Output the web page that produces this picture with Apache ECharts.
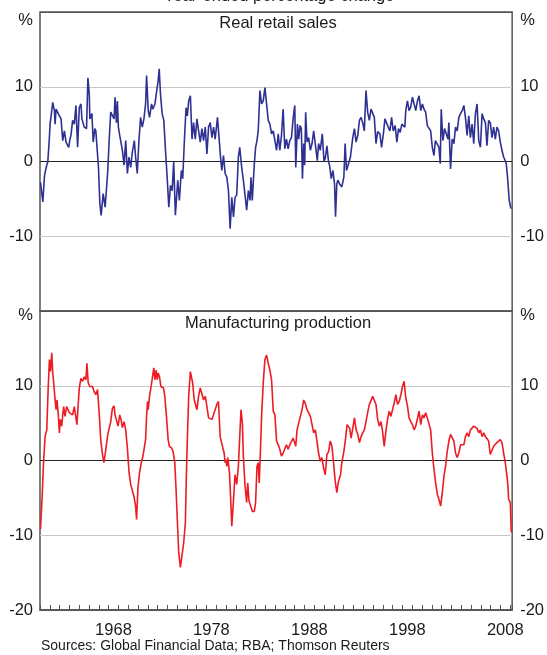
<!DOCTYPE html>
<html>
<head>
<meta charset="UTF-8">
<title>Retail sales and manufacturing production</title>
<script src="https://cdn.jsdelivr.net/npm/echarts@6/dist/echarts.min.js"></script>
<style>
  html, body { margin: 0; padding: 0; background: #fff; }
  #chart { width: 547px; height: 655px; }
</style>
</head>
<body>
<div id="chart"></div>
<script>
// year-ended % change, [decimal year, value]
var retailSales = [
  [1961.05,-2.8],[1961.29,-5.4],[1961.46,-1.9],[1961.63,-0.8],[1961.80,0.0],[1961.96,3.2],
  [1962.03,5.0],[1962.20,5.2],[1962.30,7.9],[1962.47,6.8],[1962.54,5.0],[1962.64,7.0],
  [1962.98,6.1],[1963.15,5.7],[1963.32,2.8],[1963.49,4.1],[1963.66,2.6],[1963.83,2.8],
  [1963.93,1.9],[1964.06,3.0],[1964.16,3.5],[1964.33,5.5],[1964.50,5.0],[1964.67,7.5],
  [1964.84,1.9],[1965.01,7.2],[1965.18,7.7],[1965.28,5.7],[1965.52,4.6],[1965.75,4.4],
  [1965.89,11.2],[1966.03,9.0],[1966.09,5.7],[1966.30,6.4],[1966.43,2.6],[1966.60,4.4],
  [1966.70,4.1],[1966.87,1.0],[1966.97,-0.8],[1967.11,-5.6],[1967.24,-7.2],[1967.45,-4.3],
  [1967.65,-6.1],[1967.79,-3.6],[1967.92,-1.2],[1968.06,2.8],[1968.22,6.6],[1968.39,6.8],
  [1968.56,5.7],[1968.66,8.6],[1968.80,5.2],[1968.90,8.1],[1969.00,4.6],[1969.14,3.5],
  [1969.24,3.5],[1969.41,1.5],[1969.58,-0.5],[1969.75,2.8],[1969.92,-1.6],[1970.09,0.6],
  [1970.26,-0.8],[1970.42,1.2],[1970.63,2.8],[1970.76,0.6],[1970.93,-1.6],[1971.10,2.8],
  [1971.27,5.9],[1971.44,4.6],[1971.61,5.7],[1971.78,7.7],[1971.88,11.5],[1972.05,6.8],
  [1972.18,5.9],[1972.39,7.7],[1972.52,7.0],[1972.73,7.7],[1972.89,7.5],[1973.06,10.8],
  [1973.17,12.4],[1973.30,9.0],[1973.47,6.4],[1973.64,5.5],[1973.81,1.5],[1973.98,-2.1],
  [1974.15,-6.1],[1974.32,-3.2],[1974.49,-3.9],[1974.65,0.0],[1974.82,-7.2],[1975.06,-2.5],
  [1975.23,-5.2],[1975.43,-1.2],[1975.57,-2.3],[1975.74,2.8],[1975.91,7.2],[1976.04,6.1],
  [1976.18,8.1],[1976.35,8.8],[1976.52,3.0],[1976.68,5.2],[1976.85,3.0],[1977.02,5.7],
  [1977.19,4.1],[1977.36,2.6],[1977.53,4.4],[1977.70,2.8],[1977.87,4.6],[1978.04,1.0],
  [1978.21,4.6],[1978.38,5.2],[1978.55,3.2],[1978.72,4.6],[1978.88,3.0],[1979.12,5.9],
  [1979.29,3.0],[1979.46,0.1],[1979.56,-1.2],[1979.73,0.8],[1979.90,-1.6],[1980.07,-2.1],
  [1980.24,-3.9],[1980.41,-9.0],[1980.58,-4.8],[1980.75,-7.4],[1980.91,-4.8],[1981.08,-4.5],
  [1981.25,0.6],[1981.39,1.9],[1981.59,-0.8],[1981.76,-2.5],[1981.93,-4.5],[1982.10,-6.5],
  [1982.27,-3.9],[1982.44,-5.2],[1982.54,-2.1],[1982.67,-5.2],[1982.88,-0.3],[1983.01,1.9],
  [1983.15,2.8],[1983.28,4.1],[1983.45,9.5],[1983.62,7.7],[1983.79,8.1],[1983.96,9.9],
  [1984.13,7.7],[1984.30,5.5],[1984.47,5.0],[1984.64,3.7],[1984.81,4.1],[1984.98,2.8],
  [1985.15,1.5],[1985.32,3.7],[1985.48,1.5],[1985.65,3.5],[1985.82,7.0],[1985.99,1.7],
  [1986.16,3.0],[1986.33,1.7],[1986.50,2.8],[1986.67,3.2],[1986.84,5.7],[1987.01,7.5],
  [1987.11,-0.8],[1987.28,5.0],[1987.41,3.0],[1987.55,4.8],[1987.68,4.4],[1987.79,-2.3],
  [1987.92,2.4],[1988.02,-0.5],[1988.12,6.6],[1988.26,2.6],[1988.43,3.2],[1988.60,1.5],
  [1988.77,2.4],[1988.94,4.1],[1989.11,3.9],[1989.31,0.1],[1989.44,2.4],[1989.61,1.5],
  [1989.82,3.7],[1989.99,0.1],[1990.12,0.4],[1990.29,2.1],[1990.46,-0.1],[1990.56,-0.5],
  [1990.73,-2.3],[1990.90,-1.2],[1991.07,-3.0],[1991.17,-7.4],[1991.30,-3.0],[1991.41,-2.5],
  [1991.58,-3.0],[1991.81,-3.4],[1992.02,-2.1],[1992.15,2.4],[1992.29,-1.2],[1992.49,-0.3],
  [1992.69,0.6],[1992.93,3.2],[1993.10,4.4],[1993.27,2.6],[1993.44,3.5],[1993.61,5.5],
  [1993.78,5.9],[1993.94,5.2],[1994.11,4.1],[1994.28,9.5],[1994.45,6.6],[1994.62,5.5],
  [1994.79,7.0],[1994.96,7.2],[1995.13,5.9],[1995.30,2.4],[1995.47,4.0],[1995.70,3.7],
  [1995.87,1.9],[1996.08,4.0],[1996.21,5.7],[1996.41,5.5],[1996.55,4.6],[1996.72,4.1],
  [1996.89,5.9],[1997.06,4.1],[1997.26,4.8],[1997.43,2.6],[1997.60,4.4],[1997.77,3.9],
  [1997.94,5.0],[1998.11,4.8],[1998.24,4.6],[1998.34,6.8],[1998.51,8.1],[1998.68,6.8],
  [1998.85,7.3],[1999.02,8.6],[1999.19,8.8],[1999.36,6.8],[1999.53,8.1],[1999.70,8.8],
  [1999.87,6.8],[2000.04,7.7],[2000.20,7.0],[2000.37,6.6],[2000.54,4.8],[2000.71,4.6],
  [2000.88,4.1],[2001.05,1.9],[2001.22,0.8],[2001.36,2.8],[2001.56,2.8],[2001.73,1.9],
  [2001.86,-0.3],[2001.96,7.0],[2002.13,2.8],[2002.30,4.4],[2002.47,4.4],[2002.64,3.0],
  [2002.74,5.2],[2002.91,-1.0],[2003.08,3.0],[2003.25,2.4],[2003.42,4.6],[2003.59,4.1],
  [2003.76,5.9],[2003.93,6.4],[2004.10,6.8],[2004.27,7.5],[2004.43,5.9],[2004.60,3.5],
  [2004.77,6.1],[2004.94,3.2],[2005.11,5.0],[2005.28,2.4],[2005.45,6.4],[2005.62,7.7],
  [2005.79,2.8],[2005.96,1.9],[2006.13,6.4],[2006.30,5.7],[2006.47,5.2],[2006.63,2.1],
  [2006.80,5.5],[2006.97,5.2],[2007.14,3.2],[2007.31,4.6],[2007.48,3.0],[2007.65,4.6],
  [2007.82,4.1],[2007.99,2.6],[2008.16,1.5],[2008.33,0.6],[2008.50,0.1],[2008.60,-0.3],
  [2008.73,-2.1],[2008.90,-5.2],[2009.07,-6.3]
];

var manufacturing = [
  [1961.05,-9.2],[1961.22,-4.8],[1961.36,-0.3],[1961.52,3.2],[1961.69,4.1],[1961.83,9.5],
  [1961.96,13.5],[1962.07,11.9],[1962.20,14.4],[1962.30,11.7],[1962.40,10.4],[1962.54,8.1],
  [1962.64,6.8],[1962.74,8.1],[1962.88,5.9],[1962.98,3.7],[1963.08,5.5],[1963.22,4.6],
  [1963.32,6.1],[1963.42,7.2],[1963.55,5.9],[1963.72,7.2],[1963.89,7.0],[1963.99,6.4],
  [1964.16,6.6],[1964.33,6.1],[1964.50,7.2],[1964.67,7.2],[1964.77,4.8],[1964.91,7.7],
  [1965.01,9.7],[1965.18,11.0],[1965.35,10.6],[1965.52,11.2],[1965.69,10.8],[1965.79,13.0],
  [1965.92,10.4],[1966.09,9.9],[1966.36,9.9],[1966.53,9.2],[1966.70,8.8],[1966.87,9.5],
  [1967.04,6.4],[1967.21,2.6],[1967.38,0.8],[1967.52,-0.3],[1967.65,0.8],[1967.79,0.6],
  [1967.92,3.5],[1968.06,3.7],[1968.22,5.2],[1968.39,7.0],[1968.56,7.3],[1968.66,6.1],
  [1968.80,5.9],[1968.97,4.6],[1969.14,6.1],[1969.27,5.5],[1969.41,4.4],[1969.58,5.2],
  [1969.75,4.1],[1969.92,1.7],[1970.09,-1.6],[1970.26,-3.2],[1970.42,-3.4],[1970.59,-4.8],
  [1970.76,-6.1],[1970.86,-7.9],[1971.00,-3.6],[1971.17,-1.6],[1971.34,-0.3],[1971.51,0.6],
  [1971.68,0.4],[1971.78,2.8],[1971.88,5.9],[1971.98,7.9],[1972.05,6.8],[1972.18,8.6],
  [1972.32,9.7],[1972.45,9.7],[1972.62,12.4],[1972.73,10.8],[1972.86,12.1],[1972.96,10.8],
  [1973.06,11.7],[1973.20,11.2],[1973.34,9.9],[1973.47,10.1],[1973.61,9.7],[1973.74,8.6],
  [1973.91,5.9],[1974.08,2.8],[1974.21,1.9],[1974.42,1.7],[1974.59,1.2],[1974.76,-0.3],
  [1974.89,-3.9],[1975.03,-8.3],[1975.16,-12.3],[1975.33,-14.3],[1975.50,-14.3],[1975.67,-11.0],
  [1975.84,-8.3],[1975.94,-2.1],[1976.04,2.8],[1976.18,8.6],[1976.35,11.9],[1976.45,12.1],
  [1976.58,10.4],[1976.75,8.1],[1976.85,7.9],[1977.02,6.8],[1977.19,8.6],[1977.36,9.7],
  [1977.53,9.5],[1977.70,8.1],[1977.87,8.6],[1978.04,7.2],[1978.21,5.7],[1978.38,5.9],
  [1978.55,5.5],[1978.72,5.7],[1978.88,6.8],[1979.05,7.5],[1979.22,7.9],[1979.39,3.2],
  [1979.56,3.2],[1979.66,1.7],[1979.80,1.0],[1979.90,-0.3],[1980.00,0.1],[1980.07,-0.8],
  [1980.17,0.4],[1980.34,-1.6],[1980.48,-5.6],[1980.58,-8.8],[1980.75,-5.4],[1980.91,-1.9],
  [1981.08,-3.2],[1981.25,-0.8],[1981.39,3.2],[1981.52,6.8],[1981.66,5.0],[1981.76,0.6],
  [1981.93,-3.4],[1982.10,-5.6],[1982.20,-3.0],[1982.34,-5.4],[1982.51,-5.6],[1982.67,-6.8],
  [1982.88,-6.8],[1983.01,-5.6],[1983.15,-0.8],[1983.28,-0.3],[1983.38,-3.0],[1983.52,1.9],
  [1983.62,5.9],[1983.79,10.4],[1983.96,13.5],[1984.13,14.1],[1984.30,13.0],[1984.47,12.1],
  [1984.64,10.8],[1984.81,6.6],[1984.98,6.1],[1985.15,2.6],[1985.32,2.1],[1985.48,1.5],
  [1985.65,0.6],[1985.82,1.0],[1985.99,0.8],[1986.16,2.1],[1986.33,1.5],[1986.50,2.1],
  [1986.67,2.3],[1986.84,3.0],[1987.01,2.8],[1987.11,1.9],[1987.24,4.1],[1987.41,5.0],
  [1987.58,5.9],[1987.75,6.8],[1987.92,8.1],[1988.09,7.6],[1988.26,6.8],[1988.43,7.0],
  [1988.60,5.9],[1988.77,4.8],[1988.94,3.7],[1989.11,4.1],[1989.27,2.6],[1989.44,1.0],
  [1989.61,-0.1],[1989.78,0.4],[1989.95,-1.0],[1990.12,-1.9],[1990.29,0.8],[1990.46,1.2],
  [1990.63,2.6],[1990.80,1.9],[1990.97,-0.3],[1991.14,-2.8],[1991.30,-4.3],[1991.47,-2.8],
  [1991.68,-1.9],[1991.81,-0.3],[1992.02,1.2],[1992.18,2.8],[1992.35,4.8],[1992.49,5.0],
  [1992.62,4.3],[1992.76,3.0],[1992.93,4.3],[1993.10,5.7],[1993.27,4.1],[1993.44,3.5],
  [1993.61,2.4],[1993.78,3.2],[1993.94,3.7],[1994.11,4.1],[1994.28,5.2],[1994.45,6.4],
  [1994.62,7.5],[1994.79,8.0],[1994.96,8.6],[1995.13,8.8],[1995.30,7.5],[1995.47,5.5],
  [1995.64,4.6],[1995.81,5.2],[1995.97,3.9],[1996.14,1.9],[1996.31,3.9],[1996.48,5.5],
  [1996.65,6.6],[1996.82,5.9],[1996.99,6.8],[1997.16,7.7],[1997.33,8.8],[1997.50,7.5],
  [1997.67,7.9],[1997.84,8.8],[1998.01,9.9],[1998.17,10.6],[1998.34,8.4],[1998.51,7.3],
  [1998.68,5.7],[1998.85,5.2],[1999.02,4.8],[1999.19,4.1],[1999.36,4.6],[1999.53,4.8],
  [1999.70,6.6],[1999.87,4.8],[2000.04,6.1],[2000.20,5.7],[2000.37,6.4],[2000.54,5.7],
  [2000.71,5.5],[2000.88,4.1],[2001.05,1.0],[2001.22,-1.2],[2001.39,-3.0],[2001.56,-4.5],
  [2001.73,-5.2],[2001.90,-6.1],[2002.07,-4.3],[2002.24,-2.1],[2002.40,-0.8],[2002.57,1.2],
  [2002.74,2.6],[2002.91,3.5],[2003.08,3.3],[2003.25,2.6],[2003.42,1.0],[2003.59,0.4],
  [2003.76,1.0],[2003.93,2.1],[2004.10,2.1],[2004.27,2.1],[2004.43,3.2],[2004.60,3.7],
  [2004.77,3.2],[2004.94,4.1],[2005.11,3.9],[2005.28,4.6],[2005.45,4.8],[2005.62,4.3],
  [2005.79,3.7],[2005.96,4.1],[2006.13,3.2],[2006.30,3.7],[2006.47,3.2],[2006.63,3.0],
  [2006.80,2.6],[2006.97,0.8],[2007.14,1.0],[2007.31,1.9],[2007.48,2.1],[2007.65,2.4],
  [2007.82,2.4],[2007.99,2.8],[2008.16,2.4],[2008.33,1.0],[2008.50,-0.3],[2008.67,-2.1],
  [2008.77,-3.4],[2008.84,-5.2],[2009.01,-5.6],[2009.11,-9.6]
];

var yearLabels = [1968, 1978, 1988, 1998, 2008];
var xStart = 1961, xEnd = 2009.2;
var yMin = -20, yMax = 20, yStep = 10;

var font = 'Liberation Sans, Arial, sans-serif';
var frame = '#555';
var txt = '#1a1a1a';

var chart = echarts.init(document.getElementById('chart'), null, { renderer: 'canvas' });

function yAxisFor(grid, side, hideMin, pctPad) {
  return {
    type: 'value', gridIndex: grid, position: side,
    min: yMin, max: yMax, interval: yStep,
    axisLine: { show: false }, axisTick: { show: false },
    axisLabel: {
      color: txt, fontSize: 16.5, fontFamily: font, margin: side === 'left' ? 7 : 8,
      formatter: function (v) {
        if (v === yMax) return '{p|%}';
        if (v === yMin && hideMin) return '';
        return String(v);
      },
      rich: { p: { color: txt, fontSize: 16.5, fontFamily: font, padding: [pctPad, 0, 0, 0] } }
    },
    splitLine: side === 'left' ? {
      show: true,
      lineStyle: { color: [frame, '#c8c8c8', '#222', '#c8c8c8', frame], width: 1 }
    } : { show: false }
  };
}

var option = {
  animation: false,
  backgroundColor: '#fff',
  textStyle: { fontFamily: font },
  grid: [
    { left: 40, right: 32, top: 12, height: 299, show: true, borderColor: frame, borderWidth: 1.5 },
    { left: 40, right: 32, top: 311, height: 299, show: true, borderColor: frame, borderWidth: 1.5 }
  ],
  xAxis: [
    { type: 'value', gridIndex: 0, min: xStart, max: xEnd, show: false },
    {
      type: 'value', gridIndex: 1, position: 'bottom', min: xStart, max: xEnd, interval: 1,
      axisLine: { show: true, onZero: false, lineStyle: { color: frame, width: 1.5 } },
      axisTick: { show: true, inside: true, length: 5, lineStyle: { color: frame, width: 1 } },
      axisLabel: { show: false }, splitLine: { show: false }
    },
    {
      // labels sit in the middle of each year, so this axis runs half a year behind
      type: 'value', gridIndex: 1, position: 'bottom', min: xStart - 0.5, max: xEnd - 0.5, interval: 0.5,
      axisLine: { show: false, onZero: false }, axisTick: { show: false }, splitLine: { show: false },
      axisLabel: {
        color: txt, fontSize: 16.5, fontFamily: font, margin: 12,
        formatter: function (v) {
          var r = Math.round(v);
          return (Math.abs(v - r) < 1e-6 && yearLabels.indexOf(r) >= 0) ? String(r) : '';
        }
      }
    }
  ],
  yAxis: [
    yAxisFor(0, 'left', true, 16),
    yAxisFor(0, 'right', true, 16),
    yAxisFor(1, 'left', false, 8),
    yAxisFor(1, 'right', false, 8)
  ],
  graphic: [
    { type: 'text', x: 279, y: -4, style: { text: 'Year-ended percentage change', fill: txt, font: '16.5px ' + font, textAlign: 'center', textVerticalAlign: 'middle' } },
    { type: 'text', x: 278, y: 23, style: { text: 'Real retail sales', fill: txt, font: '16.5px ' + font, textAlign: 'center', textVerticalAlign: 'middle' } },
    { type: 'text', x: 278, y: 323, style: { text: 'Manufacturing production', fill: txt, font: '16.5px ' + font, textAlign: 'center', textVerticalAlign: 'middle' } },
    { type: 'text', x: 41, y: 646, style: { text: 'Sources: Global Financial Data; RBA; Thomson Reuters', fill: txt, font: '14px ' + font, textAlign: 'left', textVerticalAlign: 'middle' } }
  ],
  series: [
    {
      name: 'Real retail sales', type: 'line', xAxisIndex: 0, yAxisIndex: 0,
      data: retailSales, showSymbol: false, symbol: 'none',
      lineStyle: { color: '#2e3192', width: 1.6 }, z: 3
    },
    {
      name: 'Manufacturing production', type: 'line', xAxisIndex: 1, yAxisIndex: 2,
      data: manufacturing, showSymbol: false, symbol: 'none',
      lineStyle: { color: '#ed1c24', width: 1.6 }, z: 3
    }
  ]
};

chart.setOption(option);
</script>
</body>
</html>
